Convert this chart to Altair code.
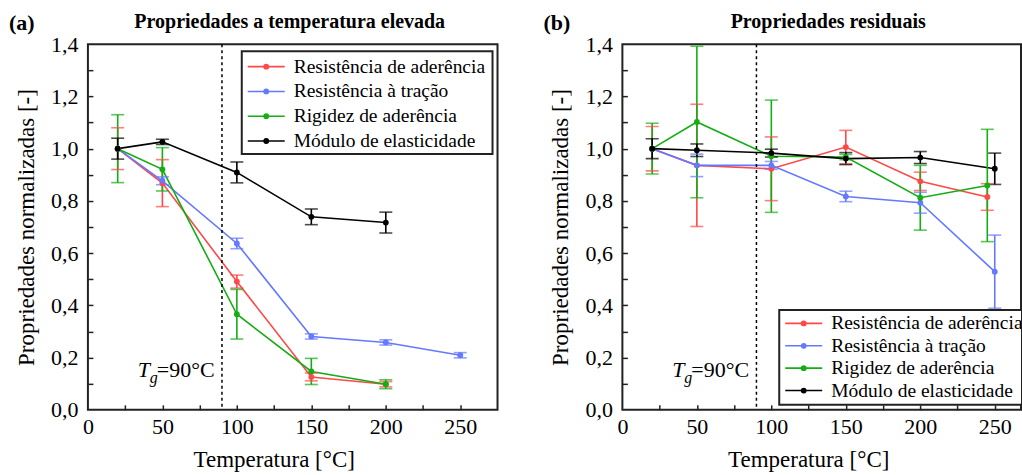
import altair as alt
import pandas as pd

FONT = "Liberation Serif"
SERIES = ["Resistência de aderência", "Resistência à tração",
          "Rigidez de aderência", "Módulo de elasticidade"]
COLORS = ["#FF4848", "#6479FF", "#14AD14", "#000000"]

# ---- Panel (a): properties at elevated temperature ----
A_RED_T = [20, 50, 100, 150, 200]
A_RED_V = [1.0, 0.868, 0.491, 0.126, 0.098]
A_RED_E = [0.08, 0.09, 0.025, 0.015, 0.01]

A_BLUE_T = [20, 50, 100, 150, 200, 250]
A_BLUE_V = [1.0, 0.877, 0.637, 0.281, 0.258, 0.209]
A_BLUE_E = [0.0, 0.015, 0.02, 0.01, 0.01, 0.01]

A_GREEN_T = [20, 50, 100, 150, 200]
A_GREEN_V = [1.0, 0.921, 0.366, 0.147, 0.098]
A_GREEN_E = [0.13, 0.083, 0.095, 0.05, 0.017]

A_BLACK_T = [20, 50, 100, 150, 200]
A_BLACK_V = [1.0, 1.026, 0.909, 0.739, 0.717]
A_BLACK_E = [0.04, 0.01, 0.04, 0.03, 0.04]

# ---- Panel (b): residual properties ----
B_RED_T = [20, 50, 100, 150, 200, 245]
B_RED_V = [1.0, 0.936, 0.923, 1.006, 0.875, 0.815]
B_RED_E = [0.085, 0.234, 0.122, 0.064, 0.035, 0.051]

B_BLUE_T = [20, 50, 100, 150, 200, 250]
B_BLUE_V = [1.0, 0.936, 0.936, 0.817, 0.793, 0.529]
B_BLUE_E = [0.0, 0.043, 0.015, 0.02, 0.04, 0.14]

B_GREEN_T = [20, 50, 100, 150, 200, 245]
B_GREEN_V = [1.0, 1.102, 0.971, 0.968, 0.812, 0.859]
B_GREEN_E = [0.097, 0.29, 0.215, 0.01, 0.124, 0.215]

B_BLACK_T = [20, 50, 100, 150, 200, 250]
B_BLACK_V = [1.0, 0.994, 0.983, 0.962, 0.966, 0.923]
B_BLACK_E = [0.038, 0.024, 0.015, 0.023, 0.023, 0.06]

TG = [90]
X_LABELS = [0, 50, 100, 150, 200, 250]
X_MINOR = [25, 50, 75, 100, 125, 150, 175, 200, 225, 250]
Y_LABELS = [0.0, 0.2, 0.4, 0.6, 0.8, 1.0, 1.2, 1.4]
Y_MINOR = [0.1, 0.2, 0.3, 0.4, 0.5, 0.6, 0.7, 0.8, 0.9, 1.0, 1.1, 1.2, 1.3]

H = 366
W_A = 410
W_B = 399
XMAX_A = 275
XMAX_B = 275 * W_B / W_A


def build(parts):
    rows = []
    for name, ts, vs, es in parts:
        for t, v, e in zip(ts, vs, es):
            rows.append({"s": name, "T": t, "v": v, "e": e, "lo": v - e, "hi": v + e})
    return pd.DataFrame(rows)


DF_A = build([(SERIES[0], A_RED_T, A_RED_V, A_RED_E),
              (SERIES[1], A_BLUE_T, A_BLUE_V, A_BLUE_E),
              (SERIES[2], A_GREEN_T, A_GREEN_V, A_GREEN_E),
              (SERIES[3], A_BLACK_T, A_BLACK_V, A_BLACK_E)])
DF_B = build([(SERIES[0], B_RED_T, B_RED_V, B_RED_E),
              (SERIES[1], B_BLUE_T, B_BLUE_V, B_BLUE_E),
              (SERIES[2], B_GREEN_T, B_GREEN_V, B_GREEN_E),
              (SERIES[3], B_BLACK_T, B_BLACK_V, B_BLACK_E)])

COMMA = "replace(format(datum.value, '.1f'), '.', ',')"


def panel(df, width, xmax, title, title_x, tag, leg):
    xs = alt.Scale(domain=[0, xmax], nice=False, zero=False)
    ys = alt.Scale(domain=[0, 1.4], nice=False, zero=False)
    color = alt.Color("s:N", scale=alt.Scale(domain=SERIES, range=COLORS), legend=None)

    x_main = alt.Axis(values=X_LABELS, ticks=False, domain=False, grid=False,
                      labelFont=FONT, labelFontSize=22, labelColor="#000",
                      labelPadding=7, title="Temperatura [°C]", titleFont=FONT,
                      titleFontSize=23, titleFontWeight="normal", titleColor="#000",
                      titlePadding=11, titleX=186, labelFlush=False)
    y_main = alt.Axis(values=Y_LABELS, ticks=False, domain=False, grid=False,
                      labelFont=FONT, labelFontSize=22, labelColor="#000",
                      labelPadding=10, labelExpr=COMMA,
                      title="Propriedades normalizadas [-]", titleFont=FONT,
                      titleFontSize=23, titleFontWeight="normal", titleColor="#000",
                      titlePadding=12)
    x_in = alt.Axis(orient="top", offset=-H, values=X_MINOR, labels=False,
                    ticks=True, tickSize=5, tickWidth=1.5, tickColor="#222",
                    domain=False, grid=False, title=None)
    y_in = alt.Axis(orient="right", offset=-width, values=Y_MINOR, labels=False,
                    ticks=True, tickSize=5, tickWidth=1.5, tickColor="#222",
                    domain=False, grid=False, title=None)

    base = alt.Chart(df)
    lines = base.mark_line(strokeWidth=1.6).encode(
        x=alt.X("T:Q", scale=xs, axis=x_main),
        y=alt.Y("v:Q", scale=ys, axis=y_main),
        color=color)
    err = df[df["e"] > 0]
    ebase = alt.Chart(err)
    bars = ebase.mark_rule(strokeWidth=1.6).encode(
        x=alt.X("T:Q", scale=xs, axis=None),
        y=alt.Y("lo:Q", scale=ys, axis=None), y2="hi:Q", color=color)
    cap_lo = ebase.mark_tick(orient="horizontal", size=13, thickness=1.6).encode(
        x=alt.X("T:Q", scale=xs, axis=None),
        y=alt.Y("lo:Q", scale=ys, axis=None), color=color)
    cap_hi = ebase.mark_tick(orient="horizontal", size=13, thickness=1.6).encode(
        x=alt.X("T:Q", scale=xs, axis=None),
        y=alt.Y("hi:Q", scale=ys, axis=None), color=color)
    pts = base.mark_circle(size=34, opacity=1).encode(
        x=alt.X("T:Q", scale=xs, axis=x_in),
        y=alt.Y("v:Q", scale=ys, axis=y_in),
        color=color)

    tg = alt.Chart(pd.DataFrame({"T": TG})).mark_rule(
        color="#000", strokeWidth=1.5, strokeDash=[3, 3]).encode(
        x=alt.X("T:Q", scale=xs, axis=None))

    tgdf = pd.DataFrame({"T": [33.5], "v": [0.125]})
    tg_T = alt.Chart(tgdf).mark_text(text="T", font=FONT, fontSize=22, fontStyle="italic",
                                     align="left", baseline="alphabetic").encode(
        x=alt.X("T:Q", scale=xs, axis=None), y=alt.Y("v:Q", scale=ys, axis=None))
    tg_g = alt.Chart(tgdf).mark_text(text="g", font=FONT, fontSize=16, fontStyle="italic",
                                     align="left", baseline="alphabetic", dx=12, dy=6).encode(
        x=alt.X("T:Q", scale=xs, axis=None), y=alt.Y("v:Q", scale=ys, axis=None))
    tg_r = alt.Chart(tgdf).mark_text(text="=90°C", font=FONT, fontSize=22,
                                     align="left", baseline="alphabetic", dx=19).encode(
        x=alt.X("T:Q", scale=xs, axis=None), y=alt.Y("v:Q", scale=ys, axis=None))

    # manual legend (pixel positions inside the plot area)
    x0, y0, dy, bx0, bx1, by0, by1 = leg
    ldf = pd.DataFrame({"s": SERIES,
                        "ly": [y0 + i * dy for i in range(4)],
                        "lx0": [x0] * 4, "lx1": [x0 + 37] * 4,
                        "lxc": [x0 + 18.5] * 4, "tx": [x0 + 46] * 4})
    bdf = pd.DataFrame({"bx0": [bx0], "bx1": [bx1], "by0": [by0], "by1": [by1]})
    box = alt.Chart(bdf).mark_rect(fill="#fff", stroke="#222", strokeWidth=2, clip=True).encode(
        x=alt.X("bx0:Q", scale=None, axis=None), x2="bx1:Q",
        y=alt.Y("by0:Q", scale=None, axis=None), y2="by1:Q")
    lch = alt.Chart(ldf)
    lline = lch.mark_rule(strokeWidth=1.6, clip=True).encode(
        x=alt.X("lx0:Q", scale=None, axis=None), x2="lx1:Q",
        y=alt.Y("ly:Q", scale=None, axis=None), color=color)
    ldot = lch.mark_circle(size=34, opacity=1, clip=True).encode(
        x=alt.X("lxc:Q", scale=None, axis=None),
        y=alt.Y("ly:Q", scale=None, axis=None), color=color)
    ltxt = lch.mark_text(font=FONT, fontSize=19.5, align="left", baseline="middle",
                         color="#000", clip=True).encode(
        x=alt.X("tx:Q", scale=None, axis=None),
        y=alt.Y("ly:Q", scale=None, axis=None), text="s:N")

    hdf = pd.DataFrame({"t": [title], "g": [tag]})
    head = alt.Chart(hdf).mark_text(font=FONT, fontSize=20, fontWeight="bold",
                                    align="center", baseline="middle", color="#000").encode(
        x=alt.value(title_x), y=alt.value(-22), text="t:N")
    tagm = alt.Chart(hdf).mark_text(font=FONT, fontSize=22, fontWeight="bold",
                                    align="left", baseline="middle", color="#000").encode(
        x=alt.value(-79), y=alt.value(-21), text="g:N")

    return alt.layer(lines, tg, bars, cap_lo, cap_hi, pts, tg_T, tg_g, tg_r,
                     box, lline, ldot, ltxt, head, tagm).resolve_axis(
        x="independent", y="independent").properties(width=width, height=H)


pa = panel(DF_A, W_A, XMAX_A, "Propriedades a temperatura elevada", 202, "(a)",
           (160, 22.5, 24.8, 154, 405, 7, 110))
pb = panel(DF_B, W_B, XMAX_B, "Propriedades residuais", 206, "(b)",
           (163, 279.5, 22.4, 157, 460, 266, 361))

chart = alt.hconcat(pa, pb, spacing=44).properties(
    padding={"left": 8, "top": 11, "right": 0, "bottom": 0},
    background="#ffffff"
).configure_view(stroke="#222", strokeWidth=2)

chart.save("out.html", embed_options={"renderer": "svg", "actions": False})
